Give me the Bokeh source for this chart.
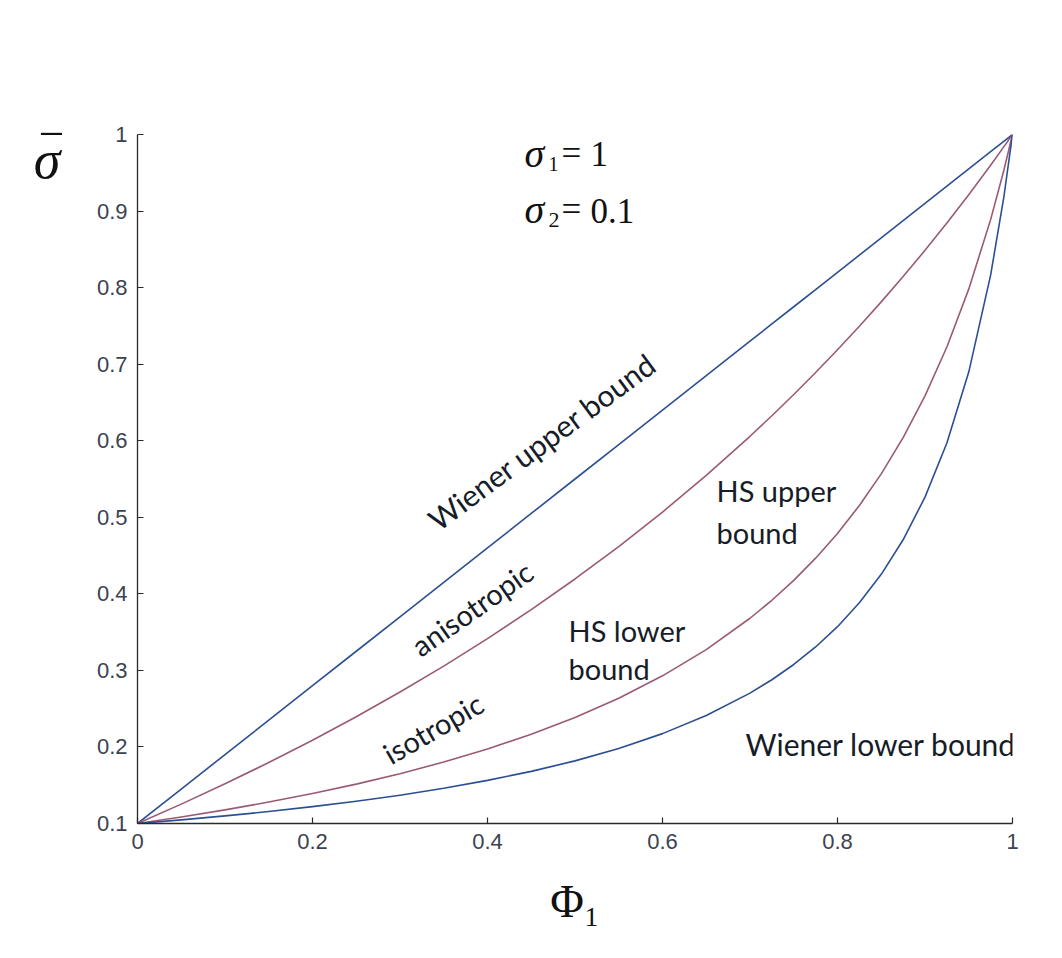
from bokeh.plotting import figure
from bokeh.models import Range1d, FixedTicker, Label, LinearAxis
from bokeh.embed import file_html
from bokeh.resources import INLINE

# ---- data ----
phi1 = [0, 0.05, 0.1, 0.15, 0.2, 0.25, 0.3, 0.35, 0.4, 0.45, 0.5, 0.55, 0.6,
        0.65, 0.7, 0.725, 0.75, 0.775, 0.8, 0.825, 0.85, 0.875, 0.9, 0.925,
        0.95, 0.975, 0.99, 1.0]
wiener_upper = [0.1, 0.145, 0.19, 0.235, 0.28, 0.325, 0.37, 0.415, 0.46, 0.505,
                0.55, 0.595, 0.64, 0.685, 0.73, 0.7525, 0.775, 0.7975, 0.82,
                0.8425, 0.865, 0.8875, 0.91, 0.9325, 0.955, 0.9775, 0.991, 1.0]
hs_upper = [0.1, 0.1253, 0.1518, 0.1796, 0.2088, 0.2394, 0.2717, 0.3056, 0.3415,
            0.3793, 0.4194, 0.4618, 0.5068, 0.5548, 0.6058, 0.6326, 0.6604,
            0.6891, 0.7188, 0.7495, 0.7814, 0.8144, 0.8487, 0.8844, 0.9214,
            0.9599, 0.9838, 1.0]
hs_lower = [0.1, 0.1085, 0.1178, 0.1280, 0.1391, 0.1514, 0.1651, 0.1803, 0.1973,
            0.2165, 0.2385, 0.2636, 0.2929, 0.3272, 0.3681, 0.3916, 0.4176,
            0.4466, 0.4789, 0.5154, 0.5567, 0.6040, 0.6586, 0.7224, 0.7980,
            0.8888, 0.9526, 1.0]
wiener_lower = [0.1, 0.1047, 0.1099, 0.1156, 0.1220, 0.1290, 0.1370, 0.1460,
                0.1563, 0.1681, 0.1818, 0.1980, 0.2174, 0.2410, 0.2703, 0.2878,
                0.3077, 0.3306, 0.3571, 0.3883, 0.4255, 0.4706, 0.5263, 0.5970,
                0.6897, 0.8163, 0.9174, 1.0]

x_ticks = [0, 0.2, 0.4, 0.6, 0.8, 1]
x_tick_labels = ["0", "0.2", "0.4", "0.6", "0.8", "1"]
y_ticks = [0.1, 0.2, 0.3, 0.4, 0.5, 0.6, 0.7, 0.8, 0.9, 1]
y_tick_labels = ["0.1", "0.2", "0.3", "0.4", "0.5", "0.6", "0.7", "0.8", "0.9", "1"]

BLUE = "#2b4f93"
RED = "#9a5a76"
TEXT = "#161c28"
INK = "#111111"
SERIF = "Liberation Serif"

# ---- layout (page pixels: frame from x=137..1012, y=134..823) ----
LEFT, RIGHT, TOP, BOTTOM = 137, 48, 134, 133
FW, FH = 875, 689
p = figure(width=LEFT + FW + RIGHT, height=TOP + FH + BOTTOM,
           x_range=Range1d(0, 1), y_range=Range1d(0.1, 1),
           output_backend="svg", toolbar_location=None,
           min_border_left=LEFT, min_border_right=RIGHT,
           min_border_top=TOP, min_border_bottom=BOTTOM)
p.outline_line_color = None
p.background_fill_color = "white"
p.border_fill_color = "white"
p.xgrid.visible = False
p.ygrid.visible = False


def dx(px):
    return (px - 137) / FW


def dy(py):
    return 0.1 + (823 - py) * 0.9 / FH


for ax, ticks, labels in ((p.xaxis[0], x_ticks, x_tick_labels),
                          (p.yaxis[0], y_ticks, y_tick_labels)):
    ax.ticker = FixedTicker(ticks=ticks)
    ax.major_label_overrides = {t: l for t, l in zip(ticks, labels)}
    ax.major_tick_in = 6
    ax.major_tick_out = 0
    ax.minor_tick_line_color = None
    ax.axis_line_color = "#2a2a2a"
    ax.axis_line_width = 1.3
    ax.major_tick_line_color = "#2a2a2a"
    ax.major_tick_line_width = 1.2
    ax.major_label_text_font = "Liberation Sans"
    ax.major_label_text_font_size = "22px"
    ax.major_label_text_color = "#3b4350"
    ax.major_label_standoff = 10

# x axis title: Phi_1
p.xaxis[0].axis_label = "Φ₁"
p.xaxis[0].axis_label_text_font = SERIF
p.xaxis[0].axis_label_text_font_size = "46px"
p.xaxis[0].axis_label_text_font_style = "normal"
p.xaxis[0].axis_label_text_color = INK
p.xaxis[0].axis_label_standoff = 24

# y axis title: sigma with an overbar, as labels of an extra left axis
ys_sigma = dy(159)
ys_bar = dy(158)
title_axis = LinearAxis(ticker=FixedTicker(ticks=[ys_sigma, ys_bar]),
                        major_label_overrides={ys_sigma: "σ", ys_bar: "‾"})
title_axis.axis_line_color = None
title_axis.major_tick_line_color = None
title_axis.minor_tick_line_color = None
title_axis.major_label_text_font = SERIF
title_axis.major_label_text_font_style = "italic"
title_axis.major_label_text_font_size = "54px"
title_axis.major_label_text_color = INK
title_axis.major_label_standoff = 27
p.add_layout(title_axis, "left")

# ---- curves ----
for ys, col in ((wiener_upper, BLUE), (hs_upper, RED), (hs_lower, RED), (wiener_lower, BLUE)):
    p.line(phi1, ys, line_color=col, line_width=1.6, line_join="round")


def lab(text, px, py, size, font="Lato", style="normal", angle=0, color=TEXT):
    p.add_layout(Label(x=dx(px), y=dy(py), text=text, text_font=font,
                       text_font_size=f"{size}px", text_font_style=style,
                       text_color=color, angle=angle, angle_units="deg",
                       text_align="left", text_baseline="alphabetic"))


# curve annotations
FS = 29
lab("Wiener upper bound", 431, 522, 30, angle=36.5)
lab("anisotropic", 414, 648, FS, angle=35)
lab("isotropic", 385, 755, FS, angle=30)
lab("HS upper", 716, 490, FS)
lab("bound", 716, 532, FS)
lab("HS lower", 568, 630, FS)
lab("bound", 568, 668, FS)
lab("Wiener lower bound", 745, 743, 30)

# parameter text
lab("σ", 524, 153, 40, font=SERIF, style="italic", color=INK)
lab("1", 548, 163, 20, font=SERIF, color=INK)
lab("=", 561, 153, 35, font=SERIF, color=INK)
lab("1", 590, 153, 35, font=SERIF, color=INK)
lab("σ", 524, 209, 40, font=SERIF, style="italic", color=INK)
lab("2", 548, 219, 22, font=SERIF, color=INK)
lab("=", 561, 209, 35, font=SERIF, color=INK)
lab("0.1", 590, 210, 35, font=SERIF, color=INK)

open("out.html", "w").write(file_html(p, INLINE))
